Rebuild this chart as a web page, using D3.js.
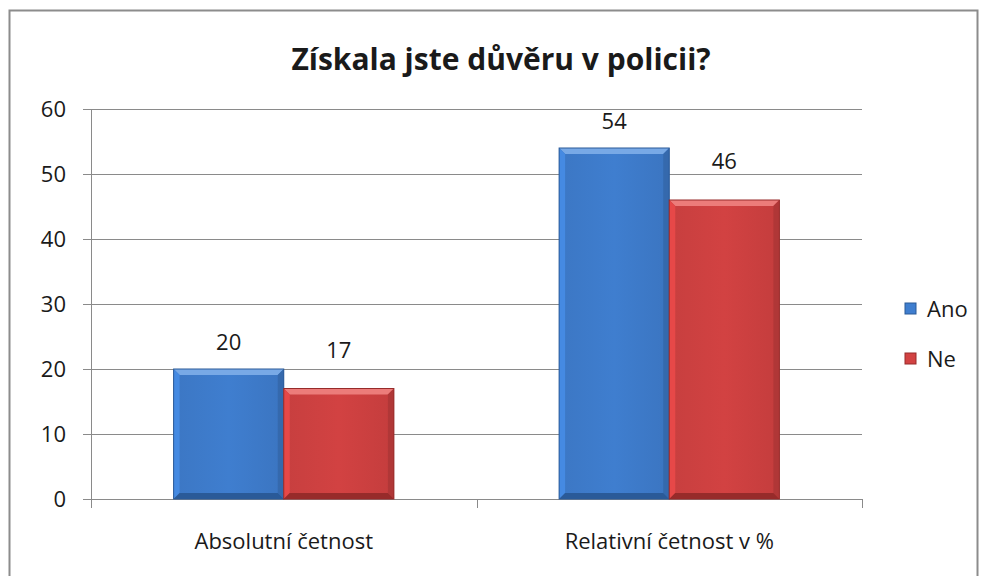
<!DOCTYPE html>
<html>
<head>
<meta charset="utf-8">
<script src="https://d3js.org/d3.v7.min.js"></script>
<style>
  body { margin: 0; background: #fff; }
  text { font-family: "Open Sans", sans-serif; fill: #1a1a1a; }
</style>
</head>
<body>
<div id="chart"></div>
<script>

var categories = ["Absolutní četnost", "Relativní četnost v %"];
var seriesNames = ["Ano", "Ne"];
var ano = [20, 54];
var ne = [17, 46];
var yTicks = [0, 10, 20, 30, 40, 50, 60];

var colors = { Ano: "#3f7ecf", Ne: "#d24242" };
var light = { Ano: "#78a9e6", Ne: "#ec7c7a" };
var dark = { Ano: "#2a5a98", Ne: "#972b2a" };
var labelGap = { Ano: 19, Ne: 31 };

var width = 986, height = 576;
var margin = { left: 91, right: 124, top: 109, bottom: 77 };

var svg = d3.select("#chart").append("svg")
    .attr("width", width)
    .attr("height", height);

// outer frame
svg.append("rect")
    .attr("x", 9.5).attr("y", 10.5)
    .attr("width", 968).attr("height", 580)
    .style("fill", "white")
    .style("stroke", "#8c8c8c")
    .style("stroke-width", 2);

svg.append("text")
    .text("Získala jste důvěru v policii?")
    .attr("x", 501).attr("y", 70)
    .style("text-anchor", "middle")
    .style("font-size", "30px")
    .style("font-weight", "bold");

var x = d3.scaleBand()
    .domain(categories)
    .range([margin.left, width - margin.right])
    .paddingInner(0)
    .paddingOuter(0);

var x1 = d3.scaleBand()
    .domain(seriesNames)
    .range([0, x.bandwidth()])
    .paddingOuter(0.75)
    .paddingInner(0);

var y = d3.scaleLinear()
    .domain([0, 60])
    .range([height - margin.bottom, margin.top]);

// gridlines
svg.append("g").selectAll("line")
    .data(yTicks)
    .enter().append("line")
    .attr("x1", margin.left - 8)
    .attr("x2", width - margin.right)
    .attr("y1", function(d) { return Math.round(y(d)) + 0.5; })
    .attr("y2", function(d) { return Math.round(y(d)) + 0.5; })
    .style("stroke", "#8a8a8a")
    .style("stroke-width", 1);

// y axis line
svg.append("line")
    .attr("x1", margin.left + 0.5).attr("x2", margin.left + 0.5)
    .attr("y1", y(60)).attr("y2", y(0))
    .style("stroke", "#8a8a8a");

// y tick labels
svg.append("g").selectAll("text")
    .data(yTicks)
    .enter().append("text")
    .text(function(d) { return d; })
    .attr("x", margin.left - 25)
    .attr("y", function(d) { return y(d) + 8; })
    .style("text-anchor", "end")
    .style("font-size", "22px");

// x ticks at band edges
var edges = categories.map(function(c) { return x(c); }).concat([x.range()[1]]);
svg.append("g").selectAll("line")
    .data(edges)
    .enter().append("line")
    .attr("x1", function(d) { return Math.round(d) + 0.5; })
    .attr("x2", function(d) { return Math.round(d) + 0.5; })
    .attr("y1", y(0))
    .attr("y2", y(0) + 9)
    .style("stroke", "#8a8a8a");

// category labels
svg.append("g").selectAll("text")
    .data(categories)
    .enter().append("text")
    .text(function(d) { return d; })
    .attr("x", function(d) { return x(d) + x.bandwidth() / 2; })
    .attr("y", 549)
    .style("text-anchor", "middle")
    .style("font-size", "22px");

// gradients for bar faces
var defs = svg.append("defs");
seriesNames.forEach(function(s) {
    var g = defs.append("linearGradient")
        .attr("id", "grad-" + s)
        .attr("x1", 0).attr("x2", 1).attr("y1", 0).attr("y2", 0);
    g.append("stop").attr("offset", "0%").attr("stop-color", d3.color(colors[s]).darker(0.15));
    g.append("stop").attr("offset", "50%").attr("stop-color", colors[s]);
    g.append("stop").attr("offset", "100%").attr("stop-color", d3.color(colors[s]).darker(0.2));
});

var bars = [];
categories.forEach(function(c, i) {
    bars.push({ cat: c, s: "Ano", v: ano[i] });
    bars.push({ cat: c, s: "Ne", v: ne[i] });
});

var bev = 6;
var barG = svg.append("g").selectAll("g")
    .data(bars)
    .enter().append("g")
    .attr("transform", function(d) {
        return "translate(" + (x(d.cat) + x1(d.s)) + "," + y(d.v) + ")";
    });

barG.each(function(d) {
    var g = d3.select(this);
    var w = x1.bandwidth();
    var h = y(0) - y(d.v);
    g.append("rect")
        .attr("width", w).attr("height", h)
        .style("fill", "url(#grad-" + d.s + ")");
    // top bevel
    g.append("path")
        .attr("d", "M0,0 L" + w + ",0 L" + (w - bev) + "," + bev + " L" + bev + "," + bev + "Z")
        .style("fill", light[d.s]);
    // left bevel
    g.append("path")
        .attr("d", "M0,0 L" + bev + "," + bev + " L" + bev + "," + (h - bev) + " L0," + h + "Z")
        .style("fill", d3.color(colors[d.s]).brighter(0.25));
    // right bevel
    g.append("path")
        .attr("d", "M" + w + ",0 L" + w + "," + h + " L" + (w - bev) + "," + (h - bev) + " L" + (w - bev) + "," + bev + "Z")
        .style("fill", d3.color(colors[d.s]).darker(0.5));
    // bottom bevel
    g.append("path")
        .attr("d", "M0," + h + " L" + w + "," + h + " L" + (w - bev) + "," + (h - bev) + " L" + bev + "," + (h - bev) + "Z")
        .style("fill", dark[d.s]);
    g.append("rect")
        .attr("width", w).attr("height", h)
        .style("fill", "none")
        .style("stroke", dark[d.s])
        .style("stroke-width", 1);
});

// value labels
svg.append("g").selectAll("text")
    .data(bars)
    .enter().append("text")
    .text(function(d) { return d.v; })
    .attr("x", function(d) { return x(d.cat) + x1(d.s) + x1.bandwidth() / 2; })
    .attr("y", function(d) { return y(d.v) - labelGap[d.s]; })
    .style("text-anchor", "middle")
    .style("font-size", "22px");

// legend
var legend = svg.append("g").selectAll("g")
    .data(seriesNames)
    .enter().append("g")
    .attr("transform", function(d, i) { return "translate(905," + (317 + i * 50) + ")"; });

legend.append("rect")
    .attr("y", -14)
    .attr("width", 11).attr("height", 11)
    .style("fill", function(d) { return colors[d]; })
    .style("stroke", function(d) { return dark[d]; });

legend.append("text")
    .text(function(d) { return d; })
    .attr("x", 22).attr("y", 0)
    .style("font-size", "22px");

</script>
</body>
</html>
